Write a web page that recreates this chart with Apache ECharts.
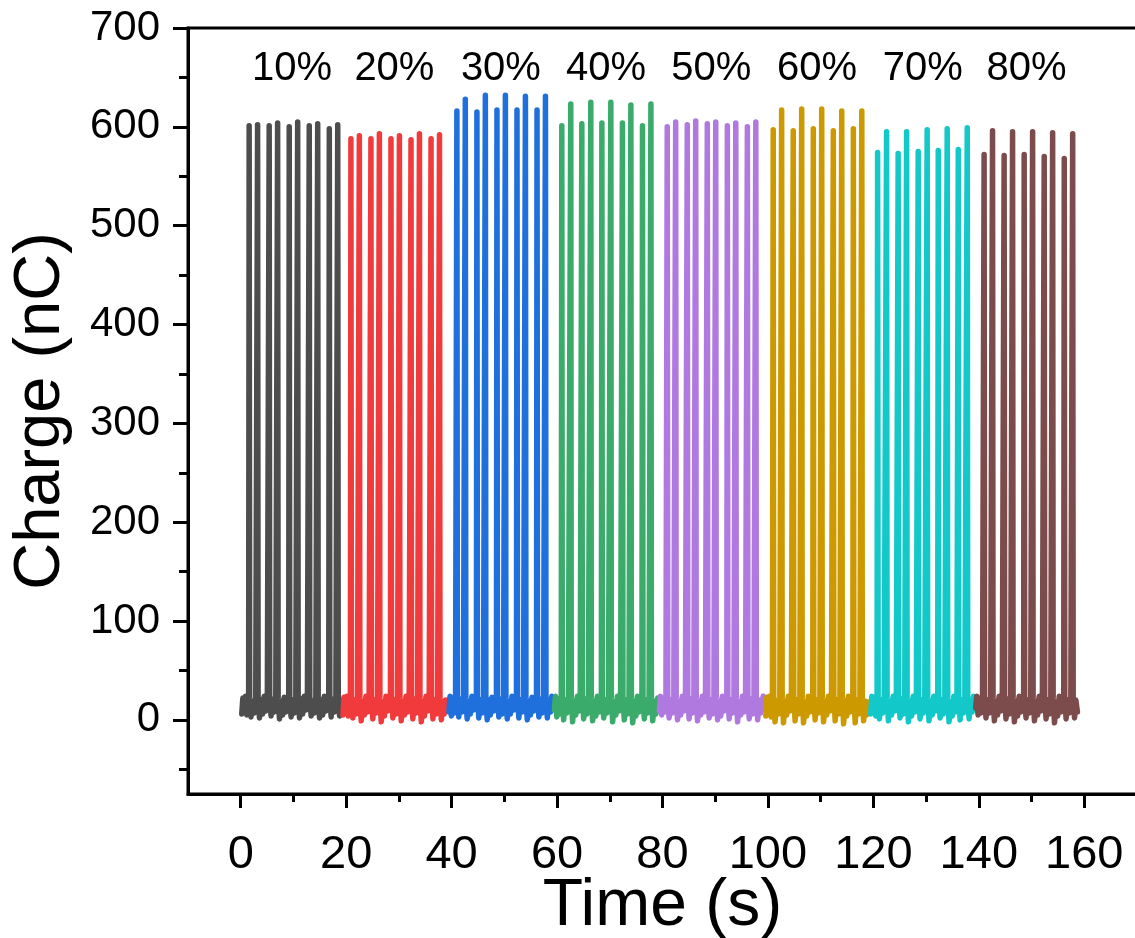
<!DOCTYPE html>
<html>
<head>
<meta charset="utf-8">
<script src="https://cdn.jsdelivr.net/npm/echarts@6/dist/echarts.min.js"></script>
<style>
  html, body { margin: 0; padding: 0; background: #fff; }
  #chart { width: 1135px; height: 938px; }
</style>
</head>
<body>
<div id="chart"></div>
<script>
// duty labels for each block
const levels = ['10%', '20%', '30%', '40%', '50%', '60%', '70%', '80%'];
const colors = ['#4d4d4d', '#f03a3c', '#1f6fdc', '#3aab6b', '#b079e0', '#cc9a00', '#12c8c8', '#7c4c4c'];

// [time (s), charge (nC)]
const q10 = [[0.2,6],[0.4,22],[0.65,10],[0.9,24],[1.15,5],[1.5,23],[1.6,601],[1.7,22],[1.95,3],[2.25,19],[2.55,7],[2.85,23],[3.1,24],[3.2,602],[3.3,23],[3.55,2],[3.85,20],[4.15,6],[4.45,24],[4.75,9],[5.05,22],[5.3,24],[5.4,601],[5.5,23],[5.75,4],[6.05,21],[6.35,8],[6.65,24],[6.9,23],[7.0,604],[7.1,22],[7.35,1],[7.65,19],[7.95,5],[8.25,23],[8.55,8],[8.85,21],[9.1,24],[9.2,600],[9.3,23],[9.55,3],[9.85,20],[10.15,7],[10.45,23],[10.7,24],[10.8,605],[10.9,22],[11.15,2],[11.45,21],[11.75,6],[12.05,24],[12.35,10],[12.65,22],[12.9,24],[13.0,601],[13.1,23],[13.35,4],[13.65,19],[13.95,7],[14.25,23],[14.5,24],[14.6,603],[14.7,22],[14.95,2],[15.25,20],[15.55,5],[15.85,24],[16.15,9],[16.45,21],[16.7,24],[16.8,598],[16.9,23],[17.15,3],[17.45,21],[17.75,8],[18.05,23],[18.3,24],[18.4,602],[18.5,22],[18.75,4],[19.0,20],[19.3,7]];
const q20 = [[19.4,5],[19.6,23],[19.85,9],[20.1,24],[20.4,4],[20.65,21],[20.8,24],[20.9,588],[21.0,23],[21.25,2],[21.55,20],[21.85,6],[22.15,23],[22.4,24],[22.5,591],[22.6,22],[22.85,-1],[23.15,19],[23.45,5],[23.75,24],[24.05,8],[24.35,22],[24.6,24],[24.7,588],[24.8,23],[25.05,1],[25.35,20],[25.65,7],[25.95,23],[26.2,24],[26.3,593],[26.4,22],[26.65,-2],[26.95,18],[27.25,4],[27.55,24],[27.85,9],[28.15,21],[28.4,24],[28.5,588],[28.6,23],[28.85,2],[29.15,20],[29.45,6],[29.75,23],[30.0,24],[30.1,591],[30.2,22],[30.45,-1],[30.75,19],[31.05,5],[31.35,24],[31.65,8],[31.95,22],[32.2,24],[32.3,587],[32.4,23],[32.65,1],[32.95,21],[33.25,7],[33.55,23],[33.8,24],[33.9,593],[34.0,22],[34.25,-2],[34.55,19],[34.85,4],[35.15,24],[35.45,9],[35.75,22],[36.0,24],[36.1,588],[36.2,23],[36.45,1],[36.75,20],[37.05,6],[37.35,23],[37.6,24],[37.7,592],[37.8,22],[38.05,0],[38.35,19],[38.6,6],[38.9,20]];
const q30 = [[39.5,8],[39.7,24],[39.95,4],[40.2,22],[40.5,7],[40.75,23],[40.9,25],[41.0,616],[41.1,23],[41.35,3],[41.65,21],[41.95,8],[42.25,24],[42.5,25],[42.6,628],[42.7,22],[42.95,1],[43.25,19],[43.55,6],[43.85,24],[44.15,10],[44.45,22],[44.7,25],[44.8,615],[44.9,23],[45.15,2],[45.45,20],[45.75,7],[46.05,24],[46.3,25],[46.4,632],[46.5,22],[46.75,0],[47.05,20],[47.35,5],[47.65,23],[47.95,9],[48.25,22],[48.5,25],[48.6,617],[48.7,23],[48.95,3],[49.25,21],[49.55,6],[49.85,24],[50.1,25],[50.2,632],[50.3,22],[50.55,1],[50.85,19],[51.15,6],[51.45,24],[51.75,10],[52.05,21],[52.3,25],[52.4,617],[52.5,23],[52.75,2],[53.05,20],[53.35,8],[53.65,24],[53.9,25],[54.0,631],[54.1,22],[54.35,0],[54.65,19],[54.95,5],[55.25,23],[55.55,9],[55.85,22],[56.1,25],[56.2,617],[56.3,23],[56.55,3],[56.85,21],[57.15,7],[57.45,24],[57.7,25],[57.8,631],[57.9,22],[58.15,2],[58.45,20],[58.75,8],[59.0,24],[59.2,12]];
const q40 = [[59.5,10],[59.7,24],[59.95,3],[60.2,21],[60.5,6],[60.8,24],[60.9,601],[61.0,23],[61.25,0],[61.55,20],[61.85,7],[62.15,23],[62.5,24],[62.6,623],[62.7,22],[62.95,-2],[63.25,19],[63.55,5],[63.85,24],[64.15,9],[64.4,22],[64.6,24],[64.7,603],[64.8,23],[65.05,1],[65.35,21],[65.65,6],[65.95,23],[66.3,24],[66.4,625],[66.5,22],[66.75,-1],[67.05,19],[67.35,4],[67.65,24],[67.95,8],[68.2,21],[68.4,24],[68.5,604],[68.6,23],[68.85,2],[69.15,20],[69.45,7],[69.75,23],[70.1,24],[70.2,625],[70.3,22],[70.55,-2],[70.85,18],[71.15,5],[71.45,24],[71.75,9],[72.05,22],[72.3,24],[72.4,604],[72.5,23],[72.75,0],[73.05,20],[73.35,6],[73.65,23],[73.9,24],[74.0,622],[74.1,22],[74.35,-3],[74.65,19],[74.95,4],[75.25,24],[75.55,8],[75.85,21],[76.1,24],[76.2,601],[76.3,23],[76.55,1],[76.85,20],[77.15,7],[77.45,23],[77.7,24],[77.8,623],[77.9,22],[78.15,-1],[78.45,19],[78.75,6],[79.1,22]];
const q50 = [[79.4,9],[79.6,24],[79.85,5],[80.1,22],[80.4,8],[80.65,23],[80.8,24],[80.9,600],[81.0,23],[81.25,2],[81.55,20],[81.85,7],[82.15,24],[82.4,24],[82.5,605],[82.6,22],[82.85,0],[83.15,19],[83.45,5],[83.75,24],[84.05,9],[84.35,22],[84.6,24],[84.7,602],[84.8,23],[85.05,1],[85.35,21],[85.65,7],[85.95,23],[86.2,24],[86.3,606],[86.4,22],[86.65,-1],[86.95,19],[87.25,5],[87.55,24],[87.85,8],[88.15,22],[88.4,24],[88.5,603],[88.6,23],[88.85,2],[89.15,20],[89.45,6],[89.75,24],[90.0,24],[90.1,605],[90.2,22],[90.45,0],[90.75,19],[91.05,4],[91.35,24],[91.65,9],[91.95,21],[92.2,24],[92.3,601],[92.4,23],[92.65,1],[92.95,20],[93.25,7],[93.55,23],[93.8,24],[93.9,604],[94.0,22],[94.25,-2],[94.55,18],[94.85,5],[95.15,24],[95.45,8],[95.75,22],[96.0,24],[96.1,600],[96.2,23],[96.45,1],[96.75,21],[97.05,6],[97.35,23],[97.6,24],[97.7,605],[97.8,22],[98.05,0],[98.35,20],[98.65,7],[99.1,24]];
const q60 = [[99.6,4],[99.8,23],[100.05,6],[100.3,24],[100.6,3],[100.85,22],[100.9,24],[101.0,597],[101.1,23],[101.35,-2],[101.65,19],[101.95,6],[102.25,23],[102.5,24],[102.6,617],[102.7,22],[102.95,-3],[103.25,19],[103.55,5],[103.85,24],[104.15,9],[104.45,22],[104.7,24],[104.8,596],[104.9,23],[105.15,-1],[105.45,20],[105.75,6],[106.05,23],[106.3,24],[106.4,618],[106.5,22],[106.75,-3],[107.05,18],[107.35,4],[107.65,24],[107.95,8],[108.25,21],[108.5,24],[108.6,598],[108.7,23],[108.95,0],[109.25,20],[109.55,7],[109.85,23],[110.1,24],[110.2,618],[110.3,22],[110.55,-2],[110.85,19],[111.15,5],[111.45,24],[111.75,9],[112.05,22],[112.3,24],[112.4,596],[112.5,23],[112.75,-1],[113.05,20],[113.35,6],[113.65,23],[113.9,24],[114.0,616],[114.1,22],[114.35,-4],[114.65,19],[114.95,4],[115.25,24],[115.55,8],[115.85,21],[116.1,24],[116.2,598],[116.3,23],[116.55,-3],[116.85,20],[117.15,6],[117.45,23],[117.7,24],[117.8,616],[117.9,22],[118.15,-1],[118.45,19],[118.7,5],[119.0,18]];
const q70 = [[119.5,6],[119.7,24],[119.95,8],[120.2,23],[120.45,4],[120.7,24],[120.8,574],[120.9,23],[121.15,1],[121.45,20],[121.75,7],[122.05,23],[122.4,24],[122.5,595],[122.6,22],[122.85,-1],[123.15,19],[123.45,5],[123.75,24],[124.05,9],[124.35,22],[124.6,24],[124.7,573],[124.8,23],[125.05,2],[125.35,21],[125.65,6],[125.95,23],[126.2,24],[126.3,595],[126.4,22],[126.65,-2],[126.95,19],[127.25,4],[127.55,24],[127.85,8],[128.15,22],[128.4,24],[128.5,575],[128.6,23],[128.85,1],[129.15,20],[129.45,7],[129.75,23],[130.1,24],[130.2,597],[130.3,22],[130.55,-1],[130.85,19],[131.15,5],[131.45,24],[131.75,9],[132.0,21],[132.2,24],[132.3,576],[132.4,23],[132.65,2],[132.95,20],[133.25,6],[133.55,23],[133.9,24],[134.0,598],[134.1,22],[134.35,-2],[134.65,18],[134.95,4],[135.25,24],[135.55,8],[135.85,22],[136.0,24],[136.1,577],[136.2,23],[136.45,0],[136.75,20],[137.05,7],[137.35,23],[137.7,24],[137.8,599],[137.9,22],[138.15,1],[138.45,20],[138.75,8],[139.0,24],[139.2,14]];
const q80 = [[139.4,12],[139.6,24],[139.85,5],[140.1,22],[140.4,7],[140.7,23],[140.9,24],[141.0,572],[141.1,23],[141.35,2],[141.65,20],[141.95,7],[142.25,23],[142.5,24],[142.6,596],[142.7,22],[142.95,-1],[143.25,19],[143.55,5],[143.85,24],[144.15,9],[144.45,22],[144.7,24],[144.8,571],[144.9,23],[145.15,1],[145.45,21],[145.75,6],[146.05,23],[146.3,24],[146.4,595],[146.5,22],[146.75,-2],[147.05,19],[147.35,4],[147.65,24],[147.95,8],[148.25,21],[148.5,24],[148.6,572],[148.7,23],[148.95,2],[149.25,20],[149.55,7],[149.85,23],[150.1,24],[150.2,595],[150.3,22],[150.55,-1],[150.85,19],[151.15,5],[151.45,24],[151.75,9],[152.05,22],[152.3,24],[152.4,570],[152.5,23],[152.75,1],[153.05,20],[153.35,6],[153.65,23],[153.9,24],[154.0,594],[154.1,22],[154.35,-3],[154.65,18],[154.95,4],[155.25,24],[155.55,8],[155.85,21],[156.1,24],[156.2,568],[156.3,23],[156.55,1],[156.85,20],[157.15,7],[157.45,23],[157.7,24],[157.8,593],[157.9,22],[158.15,2],[158.4,20],[158.7,8]];

const blocks = [q10, q20, q30, q40, q50, q60, q70, q80];

// tick positions
const xMajor = [0, 20, 40, 60, 80, 100, 120, 140, 160];
const xMinor = [10, 30, 50, 70, 90, 110, 130, 150, 170];
const yMajor = [0, 100, 200, 300, 400, 500, 600, 700];
const yMinor = [-50, 50, 150, 250, 350, 450, 550, 650];

const chart = echarts.init(document.getElementById('chart'), null, { renderer: 'canvas' });

const black = '#000';
const font = 'Liberation Sans, Arial, sans-serif';

const series = blocks.map(function (d, i) {
    return {
        name: levels[i],
        type: 'line',
        data: d,
        showSymbol: false,
        symbol: 'none',
        lineStyle: { color: colors[i], width: 5.5, cap: 'round', join: 'round' },
        z: 2
    };
});

// block labels, centred over each block
series.push({
    type: 'scatter',
    symbolSize: 0,
    silent: true,
    itemStyle: { opacity: 1 },
    data: blocks.map(function (d, i) {
        return { name: levels[i], value: [(d[0][0] + d[d.length - 1][0]) / 2, 659] };
    }),
    label: {
        show: true,
        position: 'inside',
        formatter: '{b}',
        color: black,
        textBorderWidth: 0,
        fontSize: 40,
        fontFamily: font
    },
    z: 5
});

chart.setOption({
    animation: false,
    backgroundColor: '#fff',
    grid: {
        left: 188,
        right: -2,
        top: 28,
        bottom: 144,
        containLabel: false,
        outerBoundsMode: 'none',
        show: true,
        borderColor: black,
        borderWidth: 3
    },
    xAxis: [
        {
            type: 'value',
            min: -10,
            max: 170,
            position: 'bottom',
            name: 'Time (s)',
            nameLocation: 'middle',
            nameGap: 80,
            nameMoveOverlap: false,
            nameTextStyle: { fontSize: 66, color: black, fontFamily: font },
            axisLine: { show: true, onZero: false, lineStyle: { color: black, width: 3 } },
            axisTick: { show: true, inside: false, customValues: xMajor, length: 14, lineStyle: { color: black, width: 3 } },
            axisLabel: { customValues: xMajor, fontSize: 47, color: black, fontFamily: font, margin: 38 },
            splitLine: { show: false }
        },
        {
            type: 'value',
            min: -10,
            max: 170,
            position: 'bottom',
            axisLine: { show: false, onZero: false },
            axisTick: { show: true, inside: false, customValues: xMinor, length: 8, lineStyle: { color: black, width: 3 } },
            axisLabel: { show: false },
            splitLine: { show: false }
        }
    ],
    yAxis: [
        {
            type: 'value',
            min: -75,
            max: 700,
            position: 'left',
            name: 'Charge (nC)',
            nameLocation: 'middle',
            nameGap: 114,
            nameMoveOverlap: false,
            nameTextStyle: { fontSize: 65, color: black, fontFamily: font },
            axisLine: { show: true, onZero: false, lineStyle: { color: black, width: 3 } },
            axisTick: { show: true, inside: false, customValues: yMajor, length: 15, lineStyle: { color: black, width: 3 } },
            axisLabel: { customValues: yMajor, fontSize: 42, color: black, fontFamily: font, margin: 28 },
            splitLine: { show: false }
        },
        {
            type: 'value',
            min: -75,
            max: 700,
            position: 'left',
            axisLine: { show: false, onZero: false },
            axisTick: { show: true, inside: false, customValues: yMinor, length: 9, lineStyle: { color: black, width: 3 } },
            axisLabel: { show: false },
            splitLine: { show: false }
        }
    ],
    series: series
});
</script>
</body>
</html>
